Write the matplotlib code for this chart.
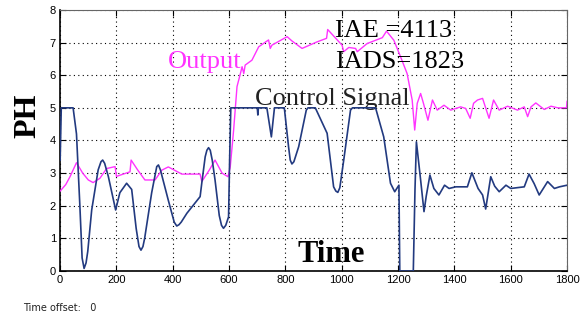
import matplotlib
matplotlib.use("Agg")
import matplotlib.pyplot as plt

# control signal (navy)
ctrl_t = [0, 4, 46, 58, 70, 78, 85, 92, 98, 112, 135, 145, 151, 158, 171, 197, 212, 236, 254,
          270, 280, 287, 294, 300, 325, 343, 349, 356, 384, 405, 414, 422, 430, 450, 497, 503,
          515, 521, 527, 533, 540, 550, 565, 573, 580, 588, 598, 602,
          606, 700, 702, 704, 734, 750, 756, 761, 796, 811, 817, 823, 830, 847, 874, 880, 906,
          948, 971, 979, 986, 993, 1007, 1031, 1038, 1120, 1149, 1173, 1188, 1203, 1206, 1254,
          1260, 1265, 1280, 1292, 1300, 1313, 1327, 1345, 1365, 1381, 1405, 1446, 1462, 1484,
          1500, 1511, 1529, 1543, 1559, 1583, 1600, 1648, 1665, 1683, 1701, 1731, 1755, 1773, 1800]
ctrl_v = [3.4, 5, 5, 4.2, 2.0, 0.4, 0.08, 0.25, 0.6, 1.87, 3.1, 3.35, 3.4, 3.3, 2.9, 1.87, 2.4, 2.69, 2.5,
          1.3, 0.75, 0.64, 0.75, 1.0, 2.4, 3.2, 3.25, 3.1, 2.17, 1.5, 1.38, 1.42, 1.5, 1.77, 2.28, 2.7,
          3.5, 3.7, 3.78, 3.7, 3.4, 2.79, 1.7, 1.4, 1.31, 1.4, 1.66, 3.5,
          5, 5, 4.78, 5, 5, 4.11, 4.6, 5, 5, 3.81, 3.4, 3.28, 3.35, 3.81, 4.93, 5, 5,
          4.22, 2.58, 2.45, 2.41, 2.55, 3.4, 4.93, 5, 5, 4.11, 2.69, 2.43, 2.63, 0, 0,
          2.5, 3.96, 2.79, 1.82, 2.3, 2.94, 2.53, 2.33, 2.63, 2.53, 2.58, 2.58, 3.01, 2.53,
          2.33, 1.9, 2.89, 2.6, 2.43, 2.63, 2.53, 2.58, 2.97, 2.68, 2.33, 2.74, 2.53, 2.58, 2.63]

# process output (magenta)
out_t = [0, 20, 35, 58, 80, 100, 117, 141, 165, 195, 200, 248, 252, 275, 301, 337, 361, 384,
         432, 497, 503, 530, 550, 575, 596, 604, 616, 628, 640, 646, 652, 657, 681, 705, 740,
         746, 752, 806, 823, 859, 912, 946, 950, 1001, 1007, 1025, 1049, 1055, 1090, 1144,
         1159, 1185, 1209, 1232, 1250, 1259, 1268, 1280, 1290, 1306, 1322, 1339, 1363, 1387,
         1422, 1440, 1456, 1468, 1482, 1500, 1523, 1539, 1559, 1589, 1624, 1648, 1660, 1672,
         1689, 1719, 1743, 1767, 1798, 1800]
out_v = [2.45, 2.65, 2.89, 3.32, 3.0, 2.79, 2.71, 2.84, 3.14, 3.2, 2.9, 3.04, 3.40, 3.1, 2.79, 2.79, 3.09, 3.19,
         2.97, 2.97, 2.74, 3.1, 3.40, 3.0, 2.89, 3.19, 4.32, 5.65, 6.05, 6.26, 6.05, 6.31, 6.46, 6.87, 7.08,
         6.82, 6.92, 7.18, 7.05, 6.82, 7.02, 7.13, 7.40, 6.92, 6.72, 6.85, 6.82, 6.72, 6.97, 7.15,
         7.35, 7.07, 6.56, 6.05, 5.24, 4.32, 5.14, 5.44, 5.14, 4.62, 5.24, 4.93, 5.08, 4.93,
         5.03, 4.98, 4.68, 5.14, 5.24, 5.29, 4.68, 5.24, 4.93, 5.05, 4.93, 5.03, 4.73, 5.03,
         5.15, 4.95, 5.05, 5.0, 5.0, 5.2]

x_ticks = [0, 200, 400, 600, 800, 1000, 1200, 1400, 1600, 1800]
y_ticks = [0, 1, 2, 3, 4, 5, 6, 7, 8]

serif = "Liberation Serif"
sans = "Liberation Sans"

fig = plt.figure(figsize=(5.84, 3.2), dpi=100)
ax = fig.add_axes([0.103, 0.153, 0.868, 0.816])

ax.plot(out_t, out_v, color="#ff33ff", linewidth=1.0, zorder=3)
ax.plot(ctrl_t, ctrl_v, color="#223a80", linewidth=1.2, zorder=4)

ax.set_xlim(0, 1800)
ax.set_ylim(0, 8)
ax.set_xticks(x_ticks)
ax.set_yticks(y_ticks)
ax.grid(True, linestyle=(0, (1, 3)), color="black", linewidth=0.8)
ax.set_axisbelow(True)
ax.tick_params(direction="in", top=True, right=True, length=4, labelsize=8, pad=3)
for lab in ax.get_xticklabels() + ax.get_yticklabels():
    lab.set_family(sans)
for s in ["left", "bottom"]:
    ax.spines[s].set_linewidth(1.2)
for s in ["top", "right"]:
    ax.spines[s].set_color("#666666")

ax.text(383, 6.22, "Output", color="#ff33ff", fontsize=19, family=serif)
ax.text(977, 7.16, "IAE =4113", color="black", fontsize=19, family=serif)
ax.text(977, 6.21, "IADS=1823", color="black", fontsize=19, family=serif)
ax.text(692, 5.08, "Control Signal", color="#222222", fontsize=19, family=serif)
ax.text(842, 0.28, "Time", color="black", fontsize=22, family=serif, weight="bold")

fig.text(0.047, 0.637, "PH", rotation=90, fontsize=23, family=serif, weight="bold",
         ha="center", va="center")
fig.text(0.04, 0.028, "Time offset:   0", fontsize=7, family="DejaVu Sans", color="#222222")

fig.savefig("out.png", dpi=100)
